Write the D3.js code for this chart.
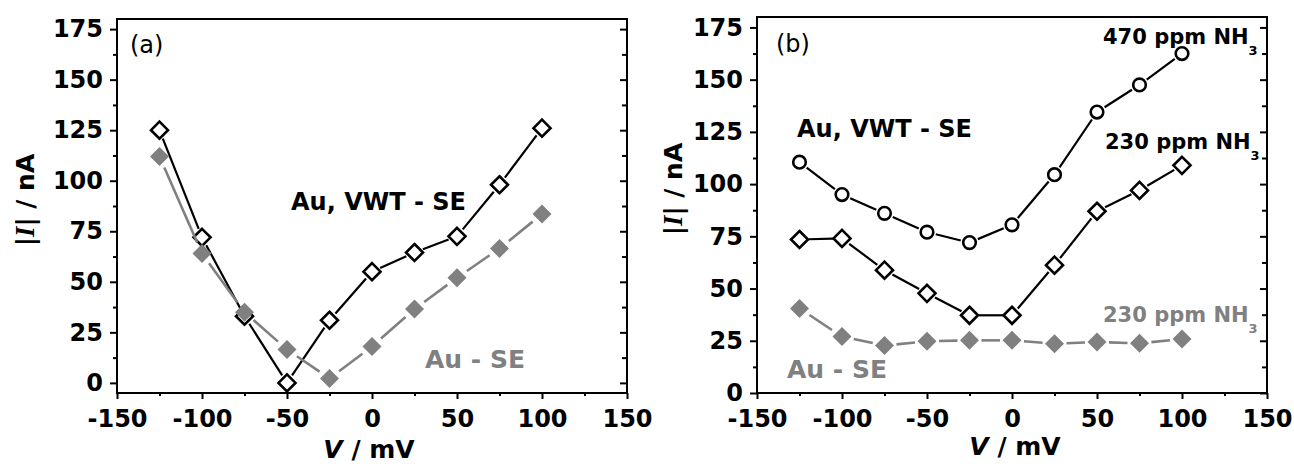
<!DOCTYPE html>
<html>
<head>
<meta charset="utf-8">
<script src="https://cdn.jsdelivr.net/npm/d3@7"></script>
<style>
  body { margin: 0; background: #fff; }
  svg { display: block; }
  text { font-family: "DejaVu Sans", sans-serif; }
  .tick text { font-weight: bold; font-size: 24px; fill: #000; }
</style>
</head>
<body>
<div id="chart"></div>
<script>
// ---- data ----
const voltages = [-125, -100, -75, -50, -25, 0, 25, 50, 75, 100];

// panel (a)
const aVwtSe = [125, 72, 33, 0, 31, 55, 64.5, 72.5, 98, 126];
const aAuSe = [112, 64, 35, 16.5, 2.2, 18, 36.5, 52, 66.5, 83.5];

// panel (b)
const b470Vwt = [110.5, 95, 86, 77, 72, 80.5, 104.5, 134.5, 147.5, 162.5];
const b230Vwt = [73.5, 74, 58.8, 47.7, 37.2, 37.2, 61.2, 87, 97, 109];
const b230AuSe = [40.5, 27, 22.7, 24.8, 25.2, 25.2, 23.6, 24.4, 23.8, 25.8];

const xTicks = [-150, -100, -50, 0, 50, 100, 150];
const xMinor = [-125, -75, -25, 25, 75, 125];
const yTicks = [0, 25, 50, 75, 100, 125, 150, 175];
const yMinor = [12.5, 37.5, 62.5, 87.5, 112.5, 137.5, 162.5];

const GRAY = "#808080";

const svg = d3.select("#chart").append("svg")
    .attr("width", 1294)
    .attr("height", 466);

// plain hyphen for negatives, like the original
const fmt = d => String(d);

/*
 * Draw one panel: frame, axes, series
 */
function drawPanel(p) {
    let x = d3.scaleLinear().domain([-150, 150]).range([p.left, p.right]);
    let y = d3.scaleLinear().domain(p.yDomain).range([p.bottom, p.top]);

    let g = svg.append("g");

    // minor ticks
    g.append("g")
        .attr("transform", `translate(${p.left},0)`)
        .call(d3.axisLeft(y).tickValues(yMinor).tickSize(4).tickFormat(""));
    g.append("g")
        .attr("transform", `translate(0,${p.bottom})`)
        .call(d3.axisBottom(x).tickValues(xMinor).tickSize(3).tickFormat(""));
    g.append("g")
        .attr("transform", `translate(${p.right},0)`)
        .call(d3.axisRight(y).tickValues(yMinor).tickSize(-5).tickFormat(""));

    // major ticks
    g.append("g")
        .attr("transform", `translate(${p.left},0)`)
        .call(d3.axisLeft(y).tickValues(yTicks).tickSize(7).tickPadding(7).tickFormat(fmt));
    g.append("g")
        .attr("transform", `translate(0,${p.bottom})`)
        .call(d3.axisBottom(x).tickValues(xTicks).tickSize(6).tickPadding(11).tickFormat(fmt));
    g.append("g")
        .attr("transform", `translate(${p.right},0)`)
        .call(d3.axisRight(y).tickValues(yTicks).tickSize(-7).tickFormat(""));

    g.selectAll(".domain").remove();
    g.selectAll(".tick line").attr("stroke", "#000").attr("stroke-width", 2);

    // frame
    g.append("rect")
        .attr("x", p.left).attr("y", p.top)
        .attr("width", p.right - p.left).attr("height", p.bottom - p.top)
        .attr("fill", "none").attr("stroke", "#000").attr("stroke-width", 2);

    // series
    p.series.forEach(s => {
        let pts = voltages.map((v, i) => [x(v), y(s.values[i])]);

        // line segments with a small gap around each symbol
        let gap = s.gap;
        let segs = [];
        for (let i = 0; i < pts.length - 1; i++) {
            let [x1, y1] = pts[i], [x2, y2] = pts[i + 1];
            let len = Math.hypot(x2 - x1, y2 - y1);
            if (len <= 2 * gap) continue;
            let ux = (x2 - x1) / len, uy = (y2 - y1) / len;
            segs.push([x1 + ux * gap, y1 + uy * gap, x2 - ux * gap, y2 - uy * gap]);
        }
        g.selectAll(null)
            .data(segs)
            .join("line")
            .attr("x1", d => d[0]).attr("y1", d => d[1])
            .attr("x2", d => d[2]).attr("y2", d => d[3])
            .attr("stroke", s.color)
            .attr("stroke-width", s.lineWidth);

        let sym = g.selectAll(null).data(pts);
        if (s.symbol === "circle") {
            sym.join("circle")
                .attr("cx", d => d[0]).attr("cy", d => d[1])
                .attr("r", 6.3)
                .attr("fill", "#fff").attr("stroke", "#000").attr("stroke-width", 2.6);
        } else if (s.symbol === "diamondOpen") {
            sym.join("path")
                .attr("d", d => `M${d[0]},${d[1] - 8.5}L${d[0] + 8.5},${d[1]}L${d[0]},${d[1] + 8.5}L${d[0] - 8.5},${d[1]}Z`)
                .attr("fill", "#fff").attr("stroke", "#000").attr("stroke-width", 2.6)
                .attr("stroke-linejoin", "miter");
        } else {
            sym.join("path")
                .attr("d", d => `M${d[0]},${d[1] - 9.5}L${d[0] + 9.5},${d[1]}L${d[0]},${d[1] + 9.5}L${d[0] - 9.5},${d[1]}Z`)
                .attr("fill", GRAY);
        }
    });

    // panel letter
    g.append("text")
        .attr("x", p.letterX).attr("y", p.letterY)
        .attr("font-size", 24)
        .text(p.letter);

    // y axis title  |I| / nA
    let yt = g.append("text")
        .attr("transform", `translate(${p.yTitleX},${p.yTitleY}) rotate(-90)`)
        .attr("text-anchor", "middle")
        .attr("font-size", 25)
        .attr("font-weight", "bold");
    yt.append("tspan").text("|");
    yt.append("tspan")
        .style("font-family", "'Liberation Serif', serif")
        .attr("font-style", "italic")
        .attr("font-size", 27)
        .text("I");
    yt.append("tspan").text("| / nA");

    // x axis title  V / mV
    let xt = g.append("text")
        .attr("x", (p.left + p.right) / 2 + p.xTitleDx).attr("y", p.xTitleY)
        .attr("text-anchor", "middle")
        .attr("font-size", 25)
        .attr("font-weight", "bold");
    xt.append("tspan").attr("font-style", "italic").text("V");
    xt.append("tspan").text(" / mV");

    return g;
}

// label helper
function label(g, x, y, txt, color, size, sub) {
    let t = g.append("text")
        .attr("x", x).attr("y", y)
        .attr("font-size", size)
        .attr("font-weight", "bold")
        .attr("fill", color)
        .text(txt);
    if (sub) {
        t.append("tspan")
            .attr("dy", 11)
            .attr("font-size", 13)
            .text(sub);
    }
}

// ---- panel (a) ----
let ga = drawPanel({
    left: 117, right: 627, top: 19, bottom: 393,
    yDomain: [-5, 180],
    letter: "(a)", letterX: 130, letterY: 53,
    yTitleX: 34, yTitleY: 200,
    xTitleDx: -3, xTitleY: 458,
    series: [
        {values: aVwtSe, symbol: "diamondOpen", color: "#000", lineWidth: 2.2, gap: 9},
        {values: aAuSe, symbol: "diamondFill", color: GRAY, lineWidth: 2.6, gap: 12}
    ]
});
label(ga, 291, 210, "Au, VWT - SE", "#000", 24);
label(ga, 425, 368, "Au - SE", GRAY, 25);

// ---- panel (b) ----
let gb = drawPanel({
    left: 757, right: 1267, top: 17, bottom: 393,
    yDomain: [0, 180],
    letter: "(b)", letterX: 776, letterY: 52,
    yTitleX: 682, yTitleY: 189,
    xTitleDx: 3, xTitleY: 455,
    series: [
        {values: b470Vwt, symbol: "circle", color: "#000", lineWidth: 2.2, gap: 9},
        {values: b230Vwt, symbol: "diamondOpen", color: "#000", lineWidth: 2.2, gap: 9},
        {values: b230AuSe, symbol: "diamondFill", color: GRAY, lineWidth: 2.6, gap: 12}
    ]
});
label(gb, 797, 137, "Au, VWT - SE", "#000", 24);
label(gb, 1103, 43.5, "470 ppm NH", "#000", 21, "3");
label(gb, 1105, 148.5, "230 ppm NH", "#000", 21, "3");
label(gb, 1103, 321.5, "230 ppm NH", GRAY, 21, "3");
label(gb, 787, 378, "Au - SE", GRAY, 25);
</script>
</body>
</html>
